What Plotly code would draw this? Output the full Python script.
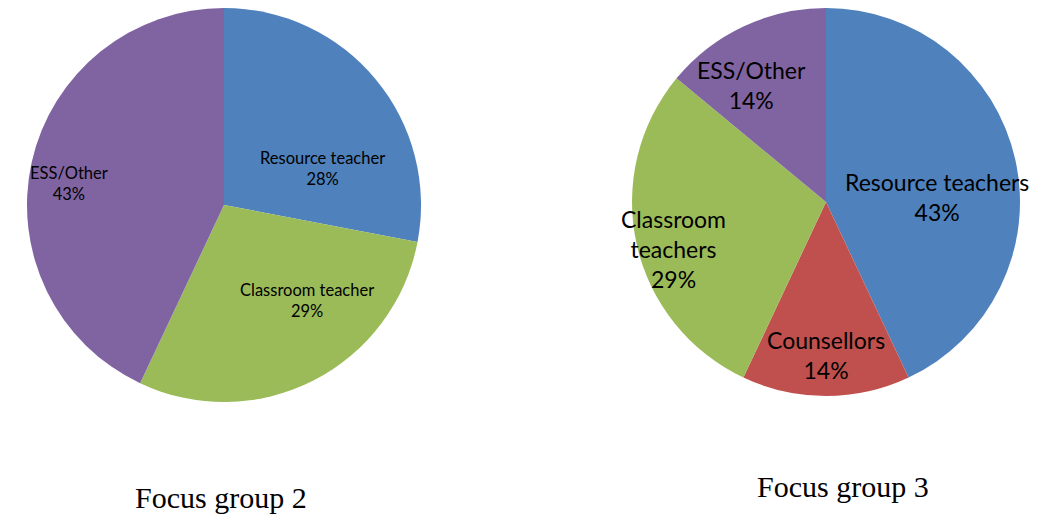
import plotly.graph_objects as go

# Focus group 2
fg2_labels = ["Resource teacher", "Classroom teacher", "ESS/Other"]
fg2_values = [28, 29, 43]
fg2_colors = ["#4F81BD", "#9BBB59", "#8064A2"]

# Focus group 3
fg3_labels = ["Resource teachers", "Counsellors", "Classroom<br>teachers", "ESS/Other"]
fg3_values = [43, 14, 29, 14]
fg3_colors = ["#4F81BD", "#C0504D", "#9BBB59", "#8064A2"]

captions = ["Focus group 2", "Focus group 3"]

W, H = 1041, 516
OFF = 8  # default page body margin


def px(vx):
    return (vx - OFF) / W


def py(vy):
    return 1 - (vy - OFF) / H


fig = go.Figure()
fig.add_trace(go.Pie(
    labels=fg2_labels, values=fg2_values, sort=False, direction="clockwise", rotation=0,
    marker=dict(colors=fg2_colors, line=dict(width=0)),
    textinfo="none", showlegend=False, hoverinfo="label+percent",
    domain=dict(x=[px(224 - 197), px(224 + 197)], y=[py(205 + 197), py(205 - 197)]),
))
fig.add_trace(go.Pie(
    labels=fg3_labels, values=fg3_values, sort=False, direction="clockwise", rotation=0,
    marker=dict(colors=fg3_colors, line=dict(width=0)),
    textinfo="none", showlegend=False, hoverinfo="label+percent",
    domain=dict(x=[px(826 - 194), px(826 + 194)], y=[py(202 + 194), py(202 - 194)]),
))

# slice labels (text from data arrays, placed like the original Excel labels)
fg2_label_pos = [(322, 168), (307, 300), (69, 184)]
fg3_label_pos = [(937, 197), (826, 355), (673, 249), (751, 85)]


def add_labels(labels, values, positions, size):
    total = sum(values)
    for lab, val, (vx, vy) in zip(labels, values, positions):
        fig.add_annotation(text=f"{lab}<br>{round(100 * val / total)}%",
                           x=px(vx), y=py(vy), xref="paper", yref="paper",
                           xanchor="center", yanchor="middle", showarrow=False,
                           font=dict(family="Lato", size=size, color="black"))


add_labels(fg2_labels, fg2_values, fg2_label_pos, 16.5)
add_labels(fg3_labels, fg3_values, fg3_label_pos, 23)

fig.add_annotation(text=captions[0], x=px(221), y=py(497), xref="paper", yref="paper",
                   xanchor="center", yanchor="middle", showarrow=False,
                   font=dict(family="Liberation Serif", size=30, color="black"))
fig.add_annotation(text=captions[1], x=px(843), y=py(486), xref="paper", yref="paper",
                   xanchor="center", yanchor="middle", showarrow=False,
                   font=dict(family="Liberation Serif", size=30, color="black"))

fig.update_layout(width=W, height=H, margin=dict(l=0, r=0, t=0, b=0),
                  paper_bgcolor="white", plot_bgcolor="white")
fig.write_html("out.html")
